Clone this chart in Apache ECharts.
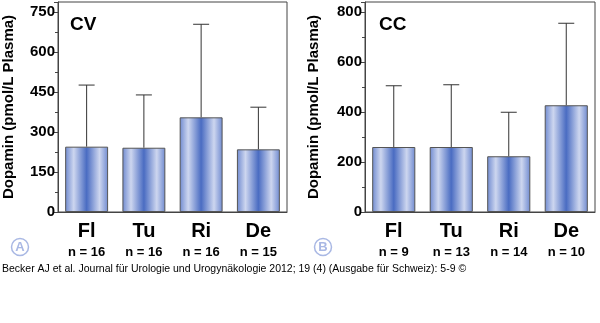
<!DOCTYPE html>
<html><head><meta charset="utf-8">
<script src="https://cdn.jsdelivr.net/npm/echarts@6/dist/echarts.min.js"></script>
<style>html,body{margin:0;padding:0;background:#fff}#c{width:600px;height:323px}</style>
</head><body><div id="c"></div>
<script>
var categories = ['Fl', 'Tu', 'Ri', 'De'];
var cvMeans = [245, 241, 355, 235];
var cvUpper = [476, 439, 704, 393];
var cvN = [16, 16, 16, 15];
var ccMeans = [260, 260, 223, 427];
var ccUpper = [505, 509, 399, 755];
var ccN = [9, 13, 14, 10];
var cvTicks = [0, 150, 300, 450, 600, 750];
var ccTicks = [0, 200, 400, 600, 800];

var FONT = 'Liberation Sans, Arial, sans-serif';
var chart = echarts.init(document.getElementById('c'));

var barColor = new echarts.graphic.LinearGradient(0, 0, 1, 0, [
  {offset: 0, color: '#6f8ad0'},
  {offset: 0.2, color: '#cdd6ef'},
  {offset: 0.5, color: '#4a6cc2'},
  {offset: 0.8, color: '#cdd6ef'},
  {offset: 1, color: '#6f8ad0'}
]);

function xAxis(gi, ns) {
  return {
    type: 'category', gridIndex: gi, data: categories,
    axisLine: {lineStyle: {color: '#444'}}, axisTick: {show: false},
    axisLabel: {
      margin: 8, interval: 0,
      formatter: function (v, i) { return '{a|' + v + '}\n{b|n = ' + ns[i] + '}'; },
      rich: {
        a: {fontFamily: FONT, fontWeight: 'bold', fontSize: 20, lineHeight: 22, color: '#000'},
        b: {fontFamily: FONT, fontWeight: 'bold', fontSize: 13, lineHeight: 20, color: '#000'}
      }
    }
  };
}
function yAxis(gi, ticks, max, gap) {
  var interval = ticks[1] - ticks[0];
  return {
    type: 'value', gridIndex: gi, min: 0, max: max, interval: interval,
    name: 'Dopamin (pmol/L Plasma)', nameLocation: 'middle', nameRotate: 90, nameGap: gap,
    nameTextStyle: {fontFamily: FONT, fontWeight: 'bold', fontSize: 15, color: '#000'},
    nameTruncate: {maxWidth: 400},
    axisLine: {show: true, lineStyle: {color: '#444'}},
    axisTick: {show: true, length: 4, lineStyle: {color: '#444'}},
    minorTick: {show: true, splitNumber: 2, length: 3, lineStyle: {color: '#444'}},
    splitLine: {show: false},
    axisLabel: {
      margin: 3, showMaxLabel: false,
      fontFamily: FONT, fontWeight: 'bold', fontSize: 15, color: '#000',
      formatter: function (v) { return ticks.indexOf(v) >= 0 ? String(v) : ''; }
    }
  };
}
function errSeries(gi, upper, means) {
  return {
    type: 'custom', xAxisIndex: gi, yAxisIndex: gi, z: 1,
    data: means.map(function (m, i) { return [i, m, upper[i]]; }),
    renderItem: function (params, api) {
      var p0 = api.coord([api.value(0), api.value(1)]);
      var p1 = api.coord([api.value(0), api.value(2)]);
      var hw = 8;
      return {
        type: 'group',
        children: [
          {type: 'line', shape: {x1: p0[0], y1: p0[1], x2: p1[0], y2: p1[1]}, style: {stroke: '#333', lineWidth: 1}},
          {type: 'line', shape: {x1: p1[0] - hw, y1: p1[1], x2: p1[0] + hw, y2: p1[1]}, style: {stroke: '#333', lineWidth: 1}}
        ]
      };
    }
  };
}
function barSeries(gi, means) {
  return {
    type: 'bar', xAxisIndex: gi, yAxisIndex: gi, data: means, barWidth: '75%', z: 2,
    itemStyle: {color: barColor, borderColor: '#555', borderWidth: 1}
  };
}
function circleLabel(x, y, t) {
  return {
    type: 'group', children: [
      {type: 'circle', shape: {cx: x, cy: y, r: 8.5}, style: {fill: '#fff', stroke: '#a9b8e4', lineWidth: 1.5}},
      {type: 'text', x: x, y: y + 0.5, style: {text: t, fill: '#a9b8e4', font: 'bold 13px ' + FONT, align: 'center', verticalAlign: 'middle'}}
    ]
  };
}

chart.setOption({
  animation: false,
  grid: [
    {left: 58, right: 313, top: 2, bottom: 111, show: true, borderColor: '#444', borderWidth: 1, containLabel: false, outerBoundsMode: 'none'},
    {left: 365, right: 5, top: 2, bottom: 111, show: true, borderColor: '#444', borderWidth: 1, containLabel: false, outerBoundsMode: 'none'}
  ],
  xAxis: [xAxis(0, cvN), xAxis(1, ccN)],
  yAxis: [yAxis(0, cvTicks, 787.5, 42), yAxis(1, ccTicks, 840, 44)],
  series: [errSeries(0, cvUpper, cvMeans), barSeries(0, cvMeans), errSeries(1, ccUpper, ccMeans), barSeries(1, ccMeans)],
  graphic: [
    {type: 'text', left: 70, top: 15, style: {text: 'CV', font: 'bold 19px ' + FONT, fill: '#000'}},
    {type: 'text', left: 379, top: 15, style: {text: 'CC', font: 'bold 19px ' + FONT, fill: '#000'}},
    circleLabel(20, 247, 'A'),
    circleLabel(323, 247, 'B'),
    {type: 'text', left: 2, top: 264, style: {text: 'Becker AJ et al. Journal für Urologie und Urogynäkologie 2012; 19 (4) (Ausgabe für Schweiz): 5-9 ©', font: '10.5px ' + FONT, fill: '#000'}}
  ]
});
</script></body></html>
